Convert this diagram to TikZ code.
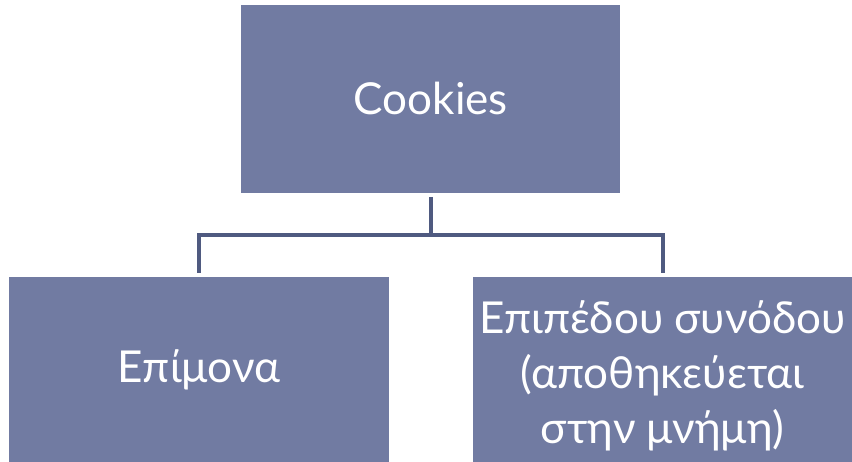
\documentclass[tikz,border=0pt]{standalone}
\usepackage{fontspec}
\setmainfont{Lato}
\definecolor{boxfill}{HTML}{717BA2}
\definecolor{linecol}{HTML}{4F5A80}
\begin{document}
\begin{tikzpicture}[x=1pt,y=-1pt,
  box/.style={fill=boxfill,draw=none,text=white,font=\fontsize{44}{55}\selectfont,align=center,inner sep=0pt},
  conn/.style={draw=linecol,line width=3.5pt}]
\useasboundingbox (0,0) rectangle (852,462);
\fill[boxfill] (241,5) rectangle (620,193);
\node[box] (top) at (431,98) {Cookies};
\fill[boxfill] (9,277) rectangle (389,462);
\node[box] (left) at (199,370) {Επίμονα};
\fill[boxfill] (473,277) rectangle (852,462);
\node[box] (right) at (662.5,376) {Επιπέδου συνόδου\\(αποθηκεύεται\\στην μνήμη)};
\coordinate (a) at (431,197);
\coordinate (b) at (431,235);
\coordinate (cl) at (199,235);
\coordinate (cr) at (663,235);
\coordinate (dl) at (199,273);
\coordinate (dr) at (663,273);
\draw[conn] (a) -- (b);
\draw[conn] (dl) -- (cl) -- (cr) -- (dr);
\end{tikzpicture}
\end{document}
